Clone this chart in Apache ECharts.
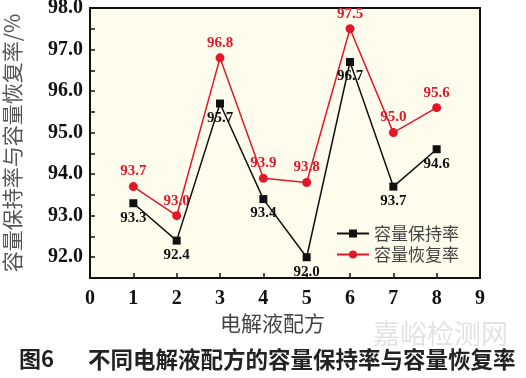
<!DOCTYPE html>
<html>
<head>
<meta charset="utf-8">
<script src="https://cdn.jsdelivr.net/npm/echarts@6/dist/echarts.min.js"></script>
<style>
html,body{margin:0;padding:0;background:#fff;}
#chart{width:526px;height:378px;}
</style>
</head>
<body>
<div id="chart"></div>
<script>
// 电解液配方编号
var formulas = [1, 2, 3, 4, 5, 6, 7, 8];
// 容量保持率 / %
var retention = [93.3, 92.4, 95.7, 93.4, 92.0, 96.7, 93.7, 94.6];
// 容量恢复率 / %
var recovery = [93.7, 93.0, 96.8, 93.9, 93.8, 97.5, 95.0, 95.6];
var seriesNames = ['容量保持率', '容量恢复率'];

var numFont = '"Liberation Serif", "Times New Roman", serif';
var cjkFont = '"Noto Sans CJK SC", sans-serif';

function pairs(vals) {
	return formulas.map(function (f, i) { return [f, vals[i]]; });
}

var chart = echarts.init(document.getElementById('chart'));
var option = {
	animation: false,
	grid: {
		left: 90,
		right: 46,
		top: 8,
		bottom: 100,
		outerBoundsMode: 'none',
		show: true,
		backgroundColor: '#fefcec',
		borderColor: '#111',
		borderWidth: 2
	},
	legend: {
		orient: 'vertical',
		left: 331,
		top: 220,
		itemWidth: 32,
		itemHeight: 10,
		itemGap: 4,
		textStyle: {
			fontFamily: cjkFont,
			fontSize: 17,
			color: '#444'
		},
		data: seriesNames
	},
	xAxis: {
		type: 'value',
		min: 0,
		max: 9,
		interval: 1,
		axisLine: { show: false },
		splitLine: { show: false },
		axisTick: { inside: true, length: 5, lineStyle: { color: '#111', width: 1.5 } },
		axisLabel: {
			margin: 11,
			fontFamily: numFont,
			fontWeight: 'bold',
			fontSize: 20,
			color: '#111'
		}
	},
	yAxis: {
		type: 'value',
		min: 91.5,
		max: 98,
		interval: 0.5,
		name: '容量保持率与容量恢复率/%',
		nameLocation: 'middle',
		nameRotate: 90,
		nameGap: 67,
		nameTextStyle: {
			fontFamily: cjkFont,
			fontSize: 21,
			color: '#555'
		},
		axisLine: { show: false },
		splitLine: { show: false },
		axisTick: { inside: true, length: 5, lineStyle: { color: '#111', width: 1.5 } },
		axisLabel: {
			margin: 7,
			fontFamily: numFont,
			fontWeight: 'bold',
			fontSize: 20,
			color: '#111',
			formatter: function (v) {
				return Math.abs(v - Math.round(v)) < 1e-6 ? v.toFixed(1) : '';
			}
		}
	},
	series: [
		{
			name: seriesNames[0],
			type: 'line',
			data: pairs(retention),
			symbol: 'rect',
			symbolSize: 8,
			itemStyle: { color: '#111' },
			lineStyle: { color: '#111', width: 1.5 },
			label: {
				show: true,
				position: 'bottom',
				distance: 3,
				fontFamily: numFont,
				fontWeight: 'bold',
				fontSize: 15,
				color: '#111',
				formatter: function (p) { return p.value[1].toFixed(1); }
			},
			z: 3
		},
		{
			name: seriesNames[1],
			type: 'line',
			data: pairs(recovery),
			symbol: 'circle',
			symbolSize: 9,
			itemStyle: { color: '#e2182a' },
			lineStyle: { color: '#e2182a', width: 1.5 },
			label: {
				show: true,
				position: 'top',
				distance: 3,
				fontFamily: numFont,
				fontWeight: 'bold',
				fontSize: 15,
				color: '#e2182a',
				formatter: function (p) { return p.value[1].toFixed(1); }
			},
			z: 2
		}
	],
	graphic: [
		{
			type: 'text',
			left: 220,
			top: 313,
			style: {
				text: '电解液配方',
				fontFamily: cjkFont,
				fontSize: 21,
				fill: '#444'
			}
		},
		{
			type: 'text',
			left: 373,
			top: 320,
			style: {
				text: '嘉峪检测网',
				fontFamily: cjkFont,
				fontSize: 27,
				fill: 'rgba(190,190,190,0.45)'
			}
		},
		{
			type: 'text',
			left: 19,
			top: 348,
			style: {
				text: '图6',
				fontFamily: cjkFont,
				fontWeight: 'bold',
				fontSize: 22,
				fill: '#222'
			}
		},
		{
			type: 'text',
			left: 88,
			top: 348,
			style: {
				text: '不同电解液配方的容量保持率与容量恢复率',
				fontFamily: cjkFont,
				fontWeight: 'bold',
				fontSize: 22.5,
				fill: '#222'
			}
		}
	]
};
chart.setOption(option);
</script>
</body>
</html>
